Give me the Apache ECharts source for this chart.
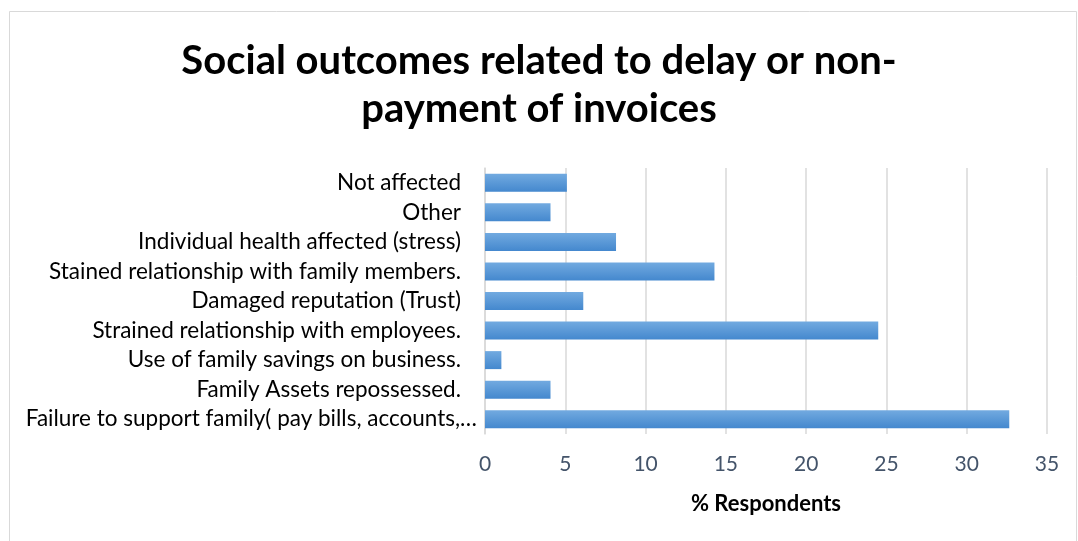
<!DOCTYPE html>
<html>
<head>
<meta charset="utf-8">
<script src="https://cdn.jsdelivr.net/npm/echarts@6/dist/echarts.min.js"></script>
<style>html,body{margin:0;padding:0;background:#fff;}#c{width:1078px;height:541px;}</style>
</head>
<body>
<div id="c"></div>
<script>
const titleText = "Social outcomes related to delay or non-\npayment of invoices";
const categories = [
  "Failure to support family( pay bills, accounts,…",
  "Family Assets repossessed.",
  "Use of family savings on business.",
  "Strained relationship with employees.",
  "Damaged reputation (Trust)",
  "Stained relationship with family members.",
  "Individual health affected (stress)",
  "Other",
  "Not affected"
];
const values = [32.65, 4.08, 1.02, 24.49, 6.12, 14.29, 8.16, 4.08, 5.10];
const xTicks = { min: 0, max: 35, interval: 5 };
const xAxisName = "% Respondents";

const chart = echarts.init(document.getElementById('c'), null, {renderer: 'canvas'});
const font = "Lato, 'Open Sans', sans-serif";
chart.setOption({
  backgroundColor: '#fff',
  animation: false,
  graphic: [{
    type: 'rect', shape: {x: 9.5, y: 11.5, width: 1067, height: 540},
    style: {fill: 'none', stroke: '#D9D9D9', lineWidth: 1}, silent: true
  }],
  title: {
    text: titleText, left: 'center', top: 32,
    textStyle: {fontFamily: font, fontWeight: 'bold', fontSize: 40, color: '#000', lineHeight: 48}
  },
  grid: {left: 485, right: 31, top: 168, bottom: 107, containLabel: false},
  xAxis: {
    type: 'value', min: xTicks.min, max: xTicks.max, interval: xTicks.interval,
    name: xAxisName, nameLocation: 'middle', nameGap: 59,
    nameTextStyle: {fontFamily: font, fontWeight: 'bold', fontSize: 22, color: '#000'},
    axisLine: {show: false}, axisTick: {show: false},
    axisLabel: {fontFamily: font, fontSize: 21, color: '#44546A', margin: 20},
    splitLine: {show: true, lineStyle: {color: '#D9D9D9', width: 1.5}}
  },
  yAxis: {
    type: 'category', data: categories,
    axisLine: {show: true, lineStyle: {color: '#D9D9D9', width: 1.5}},
    axisTick: {show: false},
    axisLabel: {
      interval: 0, hideOverlap: false,
      fontFamily: font, fontSize: 22.5, color: '#000', margin: 8,
      formatter: function (v) { return v.endsWith('…') ? '{t|' + v + '}' : '{n|' + v + '}'; },
      rich: {
        t: {fontFamily: font, fontSize: 22.5, color: '#000'},
        n: {fontFamily: font, fontSize: 22.5, color: '#000', padding: [0, 16, 0, 0]}
      }
    }
  },
  series: [{
    type: 'bar', data: values, barWidth: 18,
    itemStyle: {
      color: new echarts.graphic.LinearGradient(0, 0, 0, 1, [
        {offset: 0, color: '#72AAE0'}, {offset: 1, color: '#4488CE'}
      ])
    }
  }]
});
</script>
</body>
</html>
